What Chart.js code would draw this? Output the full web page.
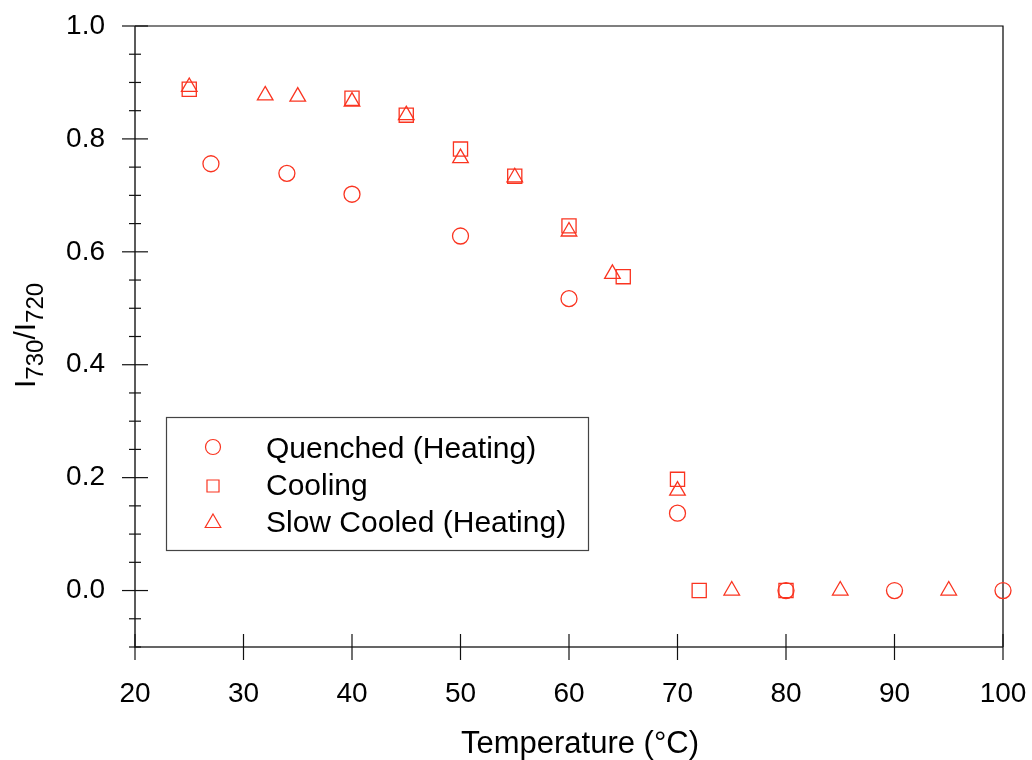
<!DOCTYPE html>
<html>
<head>
<meta charset="utf-8">
<script src="https://cdn.jsdelivr.net/npm/chart.js@4.4.0/dist/chart.umd.min.js"></script>
<style>
  html, body { margin: 0; padding: 0; background: #fff; }
  #wrap { width: 1032px; height: 760px; }
</style>
</head>
<body>
<div id="wrap"><canvas id="grafico" width="1032" height="760"></canvas></div>
<script>
// intensity ratio vs temperature, three thermal histories
const quenchedT = [27, 34, 40, 50, 60, 70, 80, 90, 100];
const quenchedRatio = [0.756, 0.739, 0.702, 0.628, 0.517, 0.137, 0, 0, 0];

const coolingT = [25, 40, 45, 50, 55, 60, 65, 70, 72, 80];
const coolingRatio = [0.888, 0.872, 0.842, 0.782, 0.734, 0.646, 0.556, 0.197, 0, 0];

const slowT = [25, 32, 35, 40, 45, 50, 55, 60, 64, 70, 75, 85, 95];
const slowRatio = [0.892, 0.877, 0.875, 0.866, 0.842, 0.766, 0.732, 0.636, 0.561, 0.177, 0, 0, 0];

const legendNames = ['Quenched (Heating)', 'Cooling', 'Slow Cooled (Heating)'];
const yLabels = [0.0, 0.2, 0.4, 0.6, 0.8, 1.0];

const RED = 'rgb(250,52,32)';
const FONT = '"Liberation Sans", Arial, sans-serif';

function pontos(xs, ys) {
    return xs.map((x, i) => ({ x: x, y: ys[i] }));
}

// box, ticks that cross the axes, titles and the inset legend
const moldura = {
    id: 'moldura',
    beforeDatasetsDraw(chart) {
        const ctx = chart.ctx;
        const a = chart.chartArea;
        const xs = chart.scales.x;
        const ys = chart.scales.y;
        ctx.save();
        ctx.strokeStyle = '#000';
        ctx.lineWidth = 1.2;
        ctx.beginPath();
        ctx.moveTo(a.left, a.top); ctx.lineTo(a.right, a.top); ctx.lineTo(a.right, a.bottom);
        ctx.stroke();
        ctx.strokeStyle = '#333';
        ctx.lineWidth = 1.6;
        ctx.beginPath();
        ctx.moveTo(a.left, a.top); ctx.lineTo(a.left, a.bottom); ctx.lineTo(a.right, a.bottom);
        ctx.stroke();

        ctx.lineWidth = 1.2;
        ctx.strokeStyle = '#111';
        ys.ticks.forEach(t => {
            const v = Math.round(t.value * 100);
            const py = ys.getPixelForValue(t.value);
            const major = v >= 0 && v % 20 === 0;
            const len = major ? 13 : 6;
            ctx.beginPath();
            ctx.moveTo(a.left - len, py); ctx.lineTo(a.left + len, py);
            ctx.stroke();
        });
        xs.ticks.forEach(t => {
            const px = xs.getPixelForValue(t.value);
            ctx.beginPath();
            ctx.moveTo(px, a.bottom - 13); ctx.lineTo(px, a.bottom + 13);
            ctx.stroke();
        });

        // axis titles
        ctx.fillStyle = '#000';
        ctx.font = '31px ' + FONT;
        ctx.textAlign = 'center';
        ctx.textBaseline = 'alphabetic';
        ctx.fillText('Temperature (°C)', 580, 753);

        ctx.translate(35, 388);
        ctx.rotate(-Math.PI / 2);
        ctx.textAlign = 'left';
        let x = 0;
        const partes = [['I', 0], ['730', 1], ['/I', 0], ['720', 1]];
        partes.forEach(p => {
            ctx.font = (p[1] ? '24px ' : '30px ') + FONT;
            ctx.fillText(p[0], x, p[1] ? 8 : 0);
            x += ctx.measureText(p[0]).width;
        });
        ctx.restore();
    },
    afterDatasetsDraw(chart) {
        const ctx = chart.ctx;
        ctx.save();
        ctx.fillStyle = '#fff';
        ctx.fillRect(166, 417, 422, 133);
        ctx.strokeStyle = '#444';
        ctx.lineWidth = 1.2;
        ctx.strokeRect(166.5, 417.5, 422, 133);

        const marcadores = [
            { style: 'circle', r: 7.5, y: 447 },
            { style: 'rect', r: 8.5, y: 486 },
            { style: 'triangle', r: 9, y: 523 }
        ];
        const bases = [458, 495, 532];
        marcadores.forEach((m, i) => {
            ctx.strokeStyle = RED;
            ctx.fillStyle = 'rgba(0,0,0,0)';
            Chart.helpers.drawPoint(ctx, { pointStyle: m.style, radius: m.r, rotation: 0, borderWidth: 1.3 }, 213, m.y);
            ctx.fillStyle = '#000';
            ctx.font = '30px ' + FONT;
            ctx.textAlign = 'left';
            ctx.textBaseline = 'alphabetic';
            ctx.fillText(legendNames[i], 266, bases[i]);
        });
        ctx.restore();
    }
};

function criarGrafico() {
    const ctx = document.getElementById('grafico');
    const base = { showLine: false, backgroundColor: 'rgba(0,0,0,0)', borderColor: RED, borderWidth: 1.3, clip: false };

    new Chart(ctx, {
        type: 'scatter',
        data: {
            datasets: [
                Object.assign({ label: legendNames[0], data: pontos(quenchedT, quenchedRatio), pointStyle: 'circle', pointRadius: 8 }, base),
                Object.assign({ label: legendNames[1], data: pontos(coolingT, coolingRatio), pointStyle: 'rect', pointRadius: 10 }, base),
                Object.assign({ label: legendNames[2], data: pontos(slowT, slowRatio), pointStyle: 'triangle', pointRadius: 9 }, base)
            ]
        },
        options: {
            responsive: false,
            animation: false,
            layout: { padding: { top: 26, right: 29, left: 0, bottom: 0 } },
            plugins: { legend: { display: false }, tooltip: { enabled: false } },
            scales: {
                x: {
                    type: 'linear',
                    min: 20, max: 100,
                    grid: { display: false, drawTicks: false },
                    border: { display: false },
                    ticks: { stepSize: 10, padding: 30, color: '#000', font: { family: FONT, size: 28 }, maxRotation: 0 },
                    afterFit(s) { s.height = 113; s.paddingLeft = 0; s.paddingRight = 0; }
                },
                y: {
                    type: 'linear',
                    min: -0.1, max: 1.0,
                    grid: { display: false, drawTicks: false },
                    border: { display: false },
                    ticks: {
                        stepSize: 0.05, padding: 30, color: '#000', autoSkip: false,
                        font: { family: FONT, size: 28 },
                        callback(v) {
                            const n = Math.round(v * 100) / 100;
                            return yLabels.some(l => Math.abs(l - n) < 1e-6) ? n.toFixed(1) : '';
                        }
                    },
                    afterFit(s) { s.width = 135; s.paddingTop = 0; s.paddingBottom = 0; }
                }
            }
        },
        plugins: [moldura]
    });
}

window.onload = criarGrafico;
</script>
</body>
</html>
